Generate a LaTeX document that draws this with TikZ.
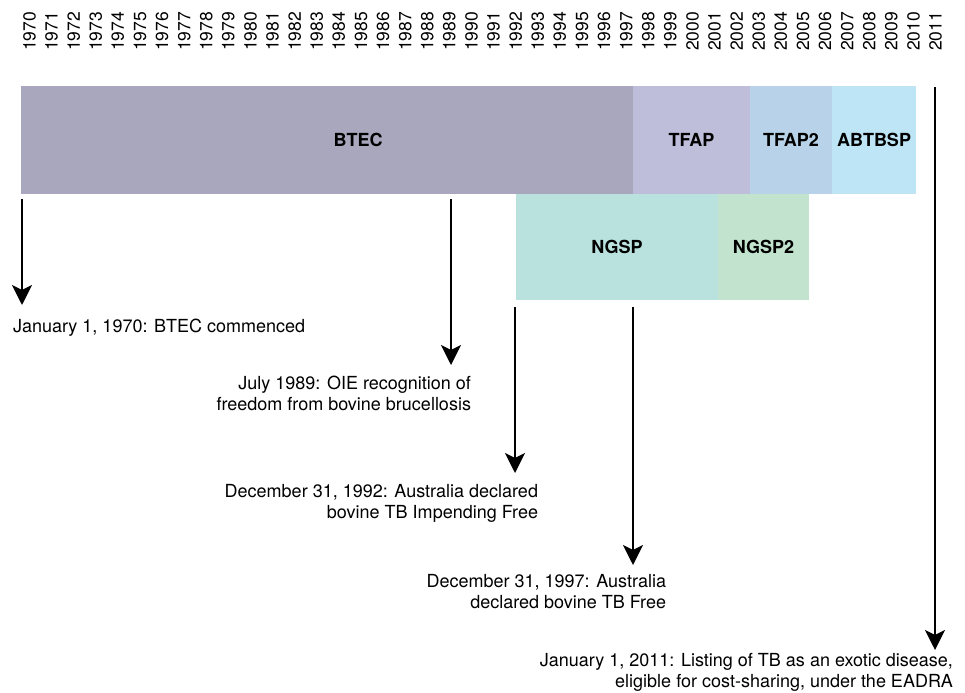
\documentclass[tikz,border=0pt]{standalone}
\usepackage{fontspec}
\setmainfont{TeX Gyre Heros}
\usetikzlibrary{arrows.meta}
\definecolor{btec}{HTML}{A9A7BD}
\definecolor{tfap}{HTML}{BEBEDA}
\definecolor{tfapb}{HTML}{B8D3E9}
\definecolor{abtbsp}{HTML}{BDE5F6}
\definecolor{ngsp}{HTML}{B9E2DF}
\definecolor{ngspb}{HTML}{C2E4CF}
\tikzset{
	every path/.style={line width=2bp},
	year/.style={
		rotate=90,
		anchor=west,
		inner sep=0,
		font=\fontsize{17.5bp}{20bp}\selectfont,
	},
	bar/.style={
		rectangle,
		anchor=north west,
		inner sep=0,
		font=\fontsize{18bp}{21bp}\selectfont\bfseries,
	},
	event/.style={
		-{Stealth[length=20bp,width=20bp,inset=5bp]}
	},
	note/.style={
		inner sep=0,
		align=right,
		anchor=base east,
		font=\fontsize{18bp}{21bp}\selectfont,
	},
}

\begin{document}
\begin{tikzpicture}[
		x=1bp, y=-1bp,
		bar/.append style={minimum height=108bp},
	]
		\useasboundingbox (0,0) rectangle (965,693);

		\foreach \yr [count=\i from 0] in {1970,...,2011}
			\node[year] (y\yr) at ({29.5+22.1*\i},52) {\yr};

		\node[bar, fill=btec, minimum width=674bp] (btec) at (20,85) {BTEC};
		\node[bar, fill=tfap, minimum width=117bp] (tfap) at (632,85) {TFAP};
		\node[bar, fill=tfapb, minimum width=82bp] (tfapb) at (749,85) {TFAP2};
		\node[bar, fill=abtbsp, minimum width=84bp] (abtbsp) at (831,85) {ABTBSP};
		\node[bar, fill=ngsp, minimum width=202bp, minimum height=106bp] (ngsp) at (515,193) {NGSP};
		\node[bar, fill=ngspb, minimum width=91bp, minimum height=106bp] (ngspb) at (717,193) {NGSP2};

		\coordinate (tip1970) at (22,305);
		\coordinate (tip1989) at (451,365);
		\coordinate (tip1992) at (515,473);
		\coordinate (tip1997) at (633,565);
		\coordinate (tip2011) at (935,650);

		% base of a two-line note is its last line
		\node[note, anchor=base west] (n1970) at (12,332.5) {January 1, 1970: BTEC commenced};
		\node[note] (n1989) at (472,410.5) {July 1989: OIE recognition of\\freedom from bovine brucellosis};
		\node[note] (n1992) at (539,518.5) {December 31, 1992: Australia declared\\bovine TB Impending Free};
		\node[note] (n1997) at (667,608.5) {December 31, 1997: Australia\\declared bovine TB Free};
		\node[note] (n2011) at (954,687.5) {January 1, 2011: Listing of TB as an exotic disease,\\eligible for cost-sharing, under the EADRA};

		\draw[event, shorten <=4bp] (btec.south -| tip1970) -- (tip1970);
		\draw[event, shorten <=4bp] (btec.south -| tip1989) -- (tip1989);
		\draw[event, shorten <=6bp] (ngsp.south -| tip1992) -- (tip1992);
		\draw[event, shorten <=6bp] (ngsp.south -| tip1997) -- (tip1997);
		\draw[event, shorten <=2bp] (abtbsp.north -| tip2011) -- (tip2011);

	\end{tikzpicture}
\end{document}
